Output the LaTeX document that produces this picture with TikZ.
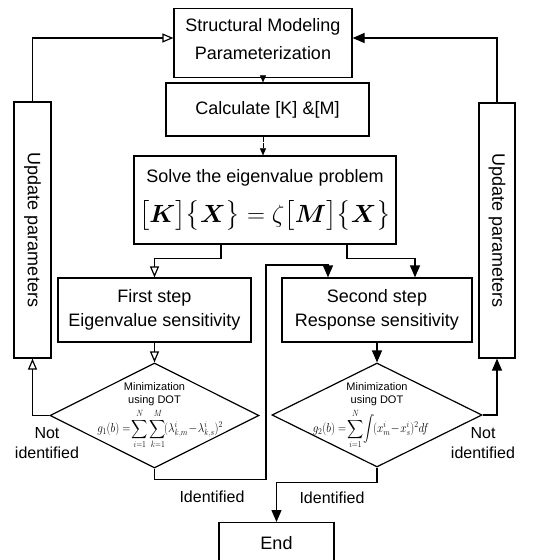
\documentclass[tikz,border=0pt]{standalone}
\usepackage{fontspec}
\setmainfont{Liberation Sans}
\usepackage{amsmath}
\usepackage{bm}
\usetikzlibrary{shapes.geometric,arrows.meta}

\begin{document}
\begin{tikzpicture}[x=1pt, y=-1pt, line width=1.2pt,
        box/.style={draw, align=center, inner sep=0pt, font=\fontsize{18}{24}\selectfont},
        openarrow/.style={-{Triangle[open, length=11pt 0 0, width=9pt 0 0]}},
        fullarrow/.style={-{Triangle[length=12pt 0 0, width=10pt 0 0]}},
        thinarrow/.style={line width=0.5pt, dash pattern=on 5pt off 1.5pt, -{Triangle[length=7pt 0 0, width=6pt 0 0]}},
        lbl/.style={align=center, font=\fontsize{16}{20}\selectfont},
        small/.style={align=center, inner sep=0pt, font=\fontsize{11}{13.5}\selectfont},
        goal/.style={inner sep=0pt, font=\fontsize{17}{19}\selectfont}]
        \useasboundingbox (0,0) rectangle (542,560);

        \node[box, minimum width=178, minimum height=69] (model) at (263,43) {Structural Modeling\\[4pt]Parameterization\rule[-8pt]{0pt}{0pt}};
        \node[box, minimum width=203, minimum height=53] (calc) at (267.5,109.5) {Calculate [K] \&[M]};
        \node[box, minimum width=262, minimum height=88] (solve) at (265,200)
            {Solve the eigenvalue problem\\[14pt]\fontsize{24}{26}\selectfont$\bigl[\bm{K}\bigr]\bigl\{\bm{X}\bigr\}=\zeta\bigl[\bm{M}\bigr]\bigl\{\bm{X}\bigr\}$\rule[-8pt]{0pt}{0pt}};
        \node[box, minimum width=193, minimum height=64] (first) at (154.5,310) {First step\\Eigenvalue sensitivity};
        \node[box, minimum width=190, minimum height=64] (second) at (377,310) {Second step\\Response sensitivity};
        \node[box, minimum width=37, minimum height=256] (updleft) at (32.5,230) {\rotatebox{-90}{Update parameters}};
        \node[box, minimum width=36, minimum height=255] (updright) at (497,230.5) {\rotatebox{-90}{Update parameters}};

        \node[draw, diamond, minimum width=209, minimum height=105, inner sep=0pt] (min1) at (154.5,415.5) {};
        \node[draw, diamond, minimum width=210, minimum height=104, inner sep=0pt] (min2) at (377,415) {};
        \node[small] (mintext1) at (154.5,394) {Minimization\\using DOT};
        \node[goal] (goal1) at (160,429) {\scalebox{0.65}[0.75]{$\displaystyle g_1(b)=\!\sum_{i=1}^{N}\sum_{k=1}^{M}\!(\lambda^i_{k,m}\!-\!\lambda^i_{k,s})^2$}};
        \node[small] (mintext2) at (377,394) {Minimization\\using DOT};
        \node[goal] (goal2) at (371,429) {\scalebox{0.65}[0.75]{$\displaystyle g_2(b)=\!\sum_{i=1}^{N}\!\int\!(x^i_m\!-\!x^i_s)^2df$}};

        \node[box, minimum width=115, minimum height=40, anchor=north] (finish) at (276.5,522) {End};

        \node[lbl] (notleft) at (47,443) {Not\\identified};
        \node[lbl] (notright) at (483,443) {Not\\identified};
        \node[lbl] (idleft) at (212,497) {Identified};
        \node[lbl] (idright) at (332,498) {Identified};

        \draw[thinarrow] (model.south) -- (calc.north -| model.south);
        \draw[thinarrow] (calc.south -| model.south) -- (solve.north -| model.south);
        \draw[openarrow] ([xshift=-44pt]solve.south) -- ++(0,14) -| (first.north);
        \draw[fullarrow] ([xshift=82pt]solve.south) -- ++(0,14) -| ([xshift=38pt]second.north);
        \draw[openarrow] (first.south) -- (min1.north);
        \draw[fullarrow] (second.south) -- (min2.north);

        \coordinate (jog) at (266,265);
        \draw[fullarrow] (min1.south) -- ++(0,11) -| (jog) -| ([xshift=-49pt]second.north);
        \draw[fullarrow] (min2.south) -- ++(0,15) -| (finish.north);

        \draw[openarrow] (min1.west) -| (updleft.south);
        \draw[openarrow] (updleft.north) |- ([yshift=5pt]model.west);
        \draw[fullarrow] (min2.east) -| (updright.south);
        \draw[fullarrow] (updright.north) |- ([yshift=5pt]model.east);
    \end{tikzpicture}
\end{document}
